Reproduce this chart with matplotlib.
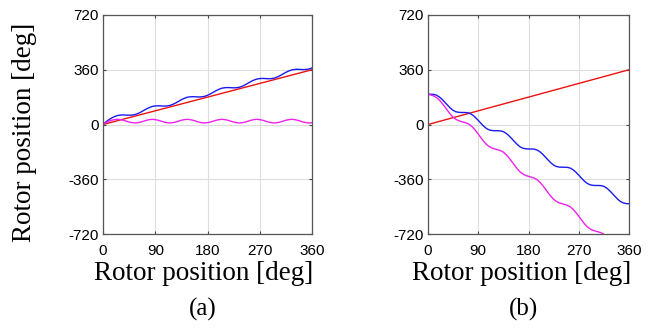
import numpy as np
import matplotlib.pyplot as plt

plt.rcParams['axes.unicode_minus'] = False

# rotor position samples (deg), every 5 deg
theta = np.arange(0, 361, 5)
ref_x = [0, 360]
ref_y = [0, 360]

# (a) estimated position and error
est_a = [2, 17, 31, 43, 52, 59, 62, 63, 62, 61, 62, 65,
         72, 81, 92, 103, 112, 119, 122, 123, 122, 121, 122, 125,
         132, 141, 152, 163, 172, 179, 182, 183, 182, 181, 182, 185,
         192, 201, 212, 223, 232, 239, 242, 243, 242, 241, 242, 245,
         252, 261, 272, 283, 292, 299, 302, 303, 302, 301, 302, 305,
         312, 321, 332, 343, 352, 359, 362, 363, 362, 361, 362, 365, 372]
err_a = [2, 12, 21, 28, 32, 34, 32, 28, 22, 16, 12, 10,
         12, 16, 22, 28, 32, 34, 32, 28, 22, 16, 12, 10,
         12, 16, 22, 28, 32, 34, 32, 28, 22, 16, 12, 10,
         12, 16, 22, 28, 32, 34, 32, 28, 22, 16, 12, 10,
         12, 16, 22, 28, 32, 34, 32, 28, 22, 16, 12, 10,
         12, 16, 22, 28, 32, 34, 32, 28, 22, 16, 12, 10, 12]

# (b) estimated position and error
est_b = [199, 199, 198, 193, 182, 166, 147, 127, 108, 93, 84, 80,
         79, 79, 78, 73, 62, 46, 27, 7, -12, -27, -36, -40,
         -41, -41, -42, -47, -58, -74, -93, -113, -132, -147, -156, -160,
         -161, -161, -162, -167, -178, -194, -213, -233, -252, -267, -276, -280,
         -281, -281, -282, -287, -298, -314, -333, -353, -372, -387, -396, -400,
         -401, -401, -402, -407, -418, -434, -453, -473, -492, -507, -516, -520, -521]
err_b = [199, 194, 188, 178, 162, 141, 117, 92, 68, 48, 34, 25,
         19, 14, 8, -2, -18, -39, -63, -88, -112, -132, -146, -155,
         -161, -166, -172, -182, -198, -219, -243, -268, -292, -312, -326, -335,
         -341, -346, -352, -362, -378, -399, -423, -448, -472, -492, -506, -515,
         -521, -526, -532, -542, -558, -579, -603, -628, -652, -672, -686, -695,
         -701, -706, -712, -722, -738]

xticks = [0, 90, 180, 270, 360]
yticks = [-720, -360, 0, 360, 720]

fig = plt.figure(figsize=(6.57, 3.28), dpi=100)
ax_a = fig.add_axes([103 / 657, 94 / 328, 209 / 657, 219 / 328])
ax_b = fig.add_axes([428 / 657, 94 / 328, 201 / 657, 219 / 328])

panels = [(ax_a, est_a, err_a, '(a)', 0.481, 203),
          (ax_b, est_b, err_b, '(b)', 0.465, 523)]
for ax, est, err, tag, xl, tag_x in panels:
    ax.plot(ref_x, ref_y, color='#ee1111', lw=1.0)
    ax.plot(theta, est, color='#1a1aee', lw=1.0)
    ax.plot(theta[:len(err)], err, color='#ee22ee', lw=1.0)
    ax.set_xlim(0, 360)
    ax.set_ylim(-720, 720)
    ax.set_xticks(xticks)
    ax.set_yticks(yticks)
    ax.grid(True, color='#dddddd', lw=0.8)
    ax.tick_params(direction='in', length=2.5, width=0.8, color='#444444',
                   labelsize=11, top=True, right=True)
    ax.tick_params(axis='x', pad=7)
    ax.tick_params(axis='y', pad=3)
    for lab in ax.get_xticklabels() + ax.get_yticklabels():
        lab.set_family('Liberation Sans')
    for s in ax.spines.values():
        s.set_color('#555555')
        s.set_linewidth(0.9)
    ax.set_xlabel('Rotor position [deg]', family='Liberation Serif',
                  fontsize=19.5)
    ax.xaxis.set_label_coords(xl, -0.123)
    # panel tag below the x label
    fig.text(tag_x / 657, 30 / 328, tag, ha='center', va='top',
             family='Liberation Serif', fontsize=18)

ax_a.set_ylabel('Rotor position [deg]', family='Liberation Serif',
                fontsize=19.5)
ax_a.yaxis.set_label_coords(-0.316, 0.466)

plt.savefig('out.png', dpi=100)
